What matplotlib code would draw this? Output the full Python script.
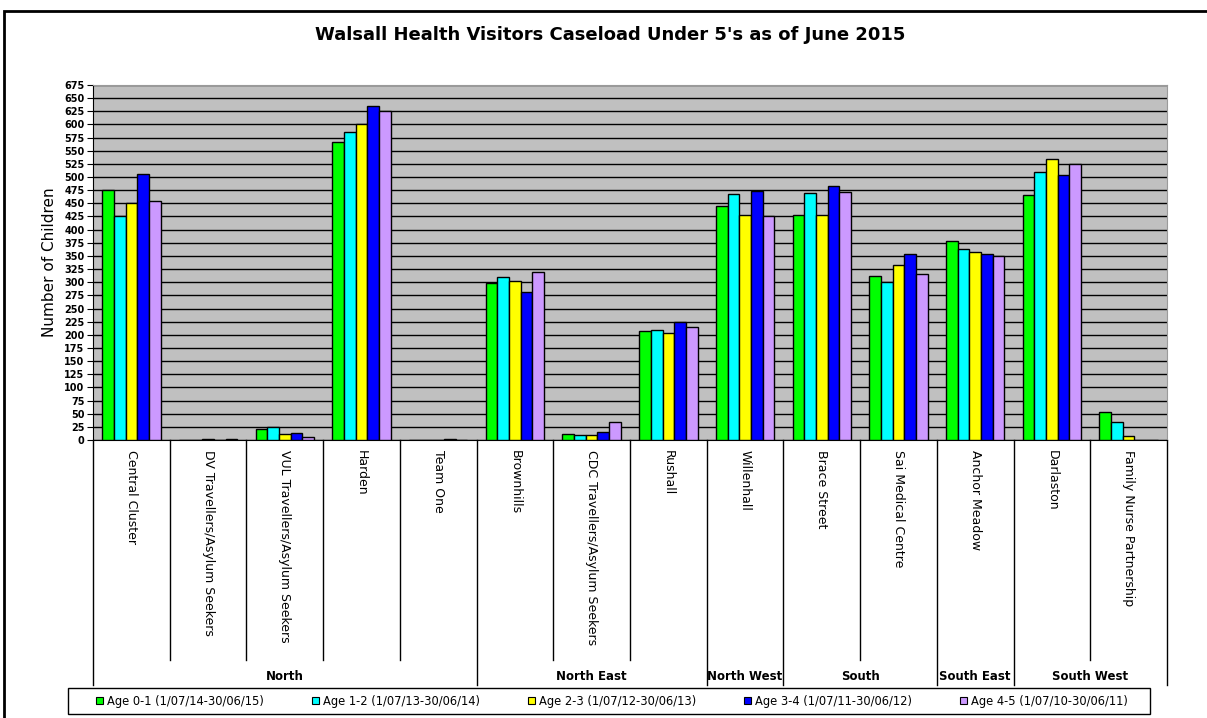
import matplotlib
matplotlib.use("Agg")
import matplotlib.pyplot as plt
from matplotlib.patches import Rectangle
import matplotlib.transforms as mtransforms

# caseload per team, one list per age band
teams = ["Central Cluster", "DV Travellers/Asylum Seekers", "VUL Travellers/Asylum Seekers",
         "Harden", "Team One", "Brownhills", "CDC Travellers/Asylum Seekers", "Rushall",
         "Willenhall", "Brace Street", "Sai Medical Centre", "Anchor Meadow", "Darlaston",
         "Family Nurse Partnership"]
age_0_1 = [475, 0, 21, 567, 0, 298, 11, 208, 445, 427, 312, 379, 465, 53]
age_1_2 = [425, 0, 25, 586, 0, 309, 9, 210, 467, 470, 300, 363, 509, 35]
age_2_3 = [450, 1, 11, 601, 0, 303, 9, 203, 428, 428, 332, 357, 535, 7]
age_3_4 = [505, 0, 14, 635, 1, 281, 16, 225, 474, 483, 353, 353, 503, 0]
age_4_5 = [455, 1, 5, 626, 0, 319, 35, 215, 425, 472, 315, 349, 524, 0]

series_labels = ["Age 0-1 (1/07/14-30/06/15)", "Age 1-2 (1/07/13-30/06/14)",
                 "Age 2-3 (1/07/12-30/06/13)", "Age 3-4 (1/07/11-30/06/12)",
                 "Age 4-5 (1/07/10-30/06/11)"]
series_colors = ["#00FF00", "#00FFFF", "#FFFF00", "#0000FF", "#CC99FF"]

# localities and how many teams each one spans
localities = ["North", "North East", "North West", "South", "South East", "South West"]
locality_sizes = [5, 3, 1, 2, 1, 2]

series = [age_0_1, age_1_2, age_2_3, age_3_4, age_4_5]

W, H = 1207, 718
fig = plt.figure(figsize=(W / 100, H / 100), dpi=100)
ax = fig.add_axes([93 / W, 1 - 440 / H, 1074 / W, 355 / H])
ax.set_facecolor("#C0C0C0")

n = len(teams)
barW = 0.76 / len(series)
for j, (vals, col, lab) in enumerate(zip(series, series_colors, series_labels)):
    xs = [i + 0.5 + (j - 2) * barW for i in range(n)]
    ax.bar(xs, vals, width=barW, color=col, edgecolor="black", linewidth=1.0,
           label=lab, zorder=3)

ax.set_xlim(0, n)
ax.set_ylim(0, 675)
ax.set_yticks(range(0, 676, 25))
ax.tick_params(axis="y", labelsize=7, length=4, width=0.8, pad=2)
for t in ax.get_yticklabels():
    t.set_fontweight("bold")
ax.yaxis.grid(True, color="black", linewidth=1.0, zorder=1)
ax.set_axisbelow(True)

ax.set_xticks([i + 0.5 for i in range(n)])
ax.set_xticklabels(teams, rotation=270, fontsize=9, va="top", ha="center")
ax.tick_params(axis="x", length=0, pad=7)

for side in ["top", "right"]:
    ax.spines[side].set_color("#9A9A9A")
ax.spines["left"].set_color("black")
ax.spines["bottom"].set_color("black")

ax.set_ylabel("Number of Children", fontsize=11, labelpad=5)

# separators under the category axis: short between teams, long between localities
trans = mtransforms.blended_transform_factory(ax.transData, ax.transAxes)
bounds = [0]
for s in locality_sizes:
    bounds.append(bounds[-1] + s)
for k in range(n + 1):
    long = k in bounds
    ybot = -0.69 if long else -0.62
    ax.plot([k, k], [0, ybot], color="black", linewidth=1.0, transform=trans,
            clip_on=False)
for name, a, b in zip(localities, bounds[:-1], bounds[1:]):
    ax.text((a + b) / 2.0, -0.665, name, transform=trans, ha="center", va="center",
            fontsize=8.5, fontweight="bold")

fig.suptitle("Walsall Health Visitors Caseload Under 5's as of June 2015",
             fontsize=13, fontweight="bold", x=610 / W, y=1 - 35 / H, va="center")

# legend along the bottom, entries spread inside a separate frame
fig.patches.append(Rectangle((68 / W, 4 / H), 1082 / W, 26 / H, transform=fig.transFigure,
                             fill=False, edgecolor="black", linewidth=1.0))
handles = [Rectangle((0, 0), 1, 1, facecolor=c, edgecolor="black", linewidth=0.8)
           for c in series_colors]
fig.legend(handles, series_labels, loc="center left", ncol=5, mode="expand",
           bbox_to_anchor=(94 / W, 5 / H, 1036 / W, 24 / H),
           fontsize=8.3, frameon=False,
           handlelength=0.6, handleheight=0.6, handletextpad=0.3,
           borderpad=0.2, borderaxespad=0)

# outer chart frame
fig.patches.append(Rectangle((4 / W, -0.1), 1.2, 1.1 - 11 / H, transform=fig.transFigure,
                             fill=False, edgecolor="black", linewidth=2.0))

fig.savefig("out.png", dpi=100)
